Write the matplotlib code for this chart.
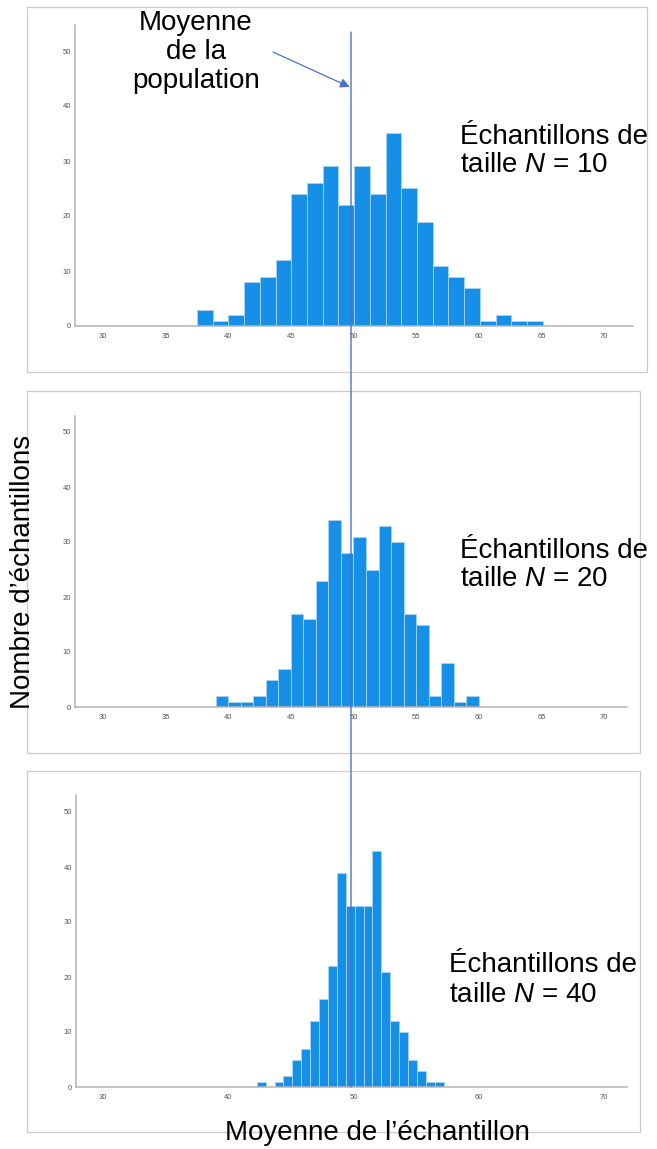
import matplotlib
matplotlib.use('Agg')
import matplotlib.pyplot as plt
from matplotlib.patches import Rectangle, ConnectionPatch
import numpy as np

plt.rcParams['font.family'] = ['Liberation Sans', 'DejaVu Sans']
plt.rcParams['mathtext.fontset'] = 'custom'
plt.rcParams['mathtext.rm'] = 'Liberation Sans'
plt.rcParams['mathtext.it'] = 'Liberation Sans:italic'

# histogram counts (300 samples per panel)
counts_n10 = [3, 1, 2, 8, 9, 12, 24, 26, 29, 22, 29, 24, 35, 25, 19, 11, 9, 7, 1, 2, 1, 1]
counts_n20 = [2, 1, 1, 2, 5, 7, 17, 16, 23, 34, 28, 31, 25, 33, 30, 17, 15, 2, 8, 1, 2]
counts_n40 = [1, 0, 1, 2, 5, 7, 12, 16, 22, 39, 33, 33, 33, 43, 21, 12, 10, 5, 3, 1, 1]

# first bin edge and bin width of each histogram
bin_start = [37.5, 39.0, 42.28]
bin_width = [1.255, 1.0, 0.71]

sample_sizes = [10, 20, 40]
xticks_list = [[30, 35, 40, 45, 50, 55, 60, 65, 70],
               [30, 35, 40, 45, 50, 55, 60, 65, 70],
               [30, 40, 50, 60, 70]]
yticks = [0, 10, 20, 30, 40, 50]
pop_mean = 50
# the hand-drawn mean line sits slightly left of the 50 tick in the original
line_x = pop_mean - 0.2

W, H = 657, 1149
fig = plt.figure(figsize=(W / 100, H / 100), dpi=100)


def fx(px):
    return px / W


def fy(py):
    return 1 - py / H


# pixel layout: (left, right, top, bottom) of axes, frame boxes, label positions
axes_px = [(75, 633, 25, 326), (75, 627, 416, 707), (76, 627, 795, 1087)]
frames_px = [(27, 647, 7, 372), (27, 640, 391, 753), (27, 640, 771, 1132)]
note_px = [(460, 151), (460, 565), (449, 980)]

bar_color = '#1690e6'
line_color = '#4a72cc'

axes = []
for i in range(3):
    l, r, t, b = frames_px[i]
    fig.add_artist(Rectangle((fx(l), fy(b)), fx(r) - fx(l), fy(t) - fy(b),
                             transform=fig.transFigure, fill=False,
                             edgecolor='#cccccc', linewidth=0.9, zorder=0))

    l, r, t, b = axes_px[i]
    ax = fig.add_axes([fx(l), fy(b), fx(r) - fx(l), fy(t) - fy(b)])
    counts = counts_n10 if i == 0 else counts_n20 if i == 1 else counts_n40
    lefts = bin_start[i] + bin_width[i] * np.arange(len(counts))
    ax.bar(lefts, counts, width=bin_width[i], align='edge', color=bar_color,
           edgecolor='#a8d4f5', linewidth=0.6, zorder=2)

    # x: 30 at px 103, 70 at px 604
    ppu = (604 - 103) / 40
    ax.set_xlim(30 - (103 - l) / ppu, 70 + (r - 604) / ppu)
    ax.set_ylim(0, (b - t) / 5.5)
    ax.set_xticks(xticks_list[i])
    ax.set_yticks(yticks)
    ax.tick_params(length=0, labelsize=5.5, labelcolor='#555555')
    ax.tick_params(axis='x', pad=5)
    ax.tick_params(axis='y', pad=3)
    for s in ['top', 'right']:
        ax.spines[s].set_visible(False)
    for s in ['left', 'bottom']:
        ax.spines[s].set_color('#b4b4b4')
        ax.spines[s].set_linewidth(1.1)
    ax.patch.set_alpha(0)
    axes.append(ax)

    nx, ny = note_px[i]
    fig.text(fx(nx), fy(ny), 'Échantillons de\ntaille $N$ = %d' % sample_sizes[i],
             fontsize=20, ha='left', va='center', linespacing=1.15, zorder=5)

# population mean line crossing all three panels
top_val = (axes_px[0][3] - 32) / 5.5
con = ConnectionPatch(xyA=(line_x, top_val), coordsA=axes[0].transData,
                      xyB=(line_x, 0), coordsB=axes[2].transData,
                      color=line_color, linewidth=1.0, zorder=10)
fig.add_artist(con)

arrow_val = (axes_px[0][3] - 87) / 5.5
axes[0].annotate('', xy=(line_x - 0.1, arrow_val), xycoords='data',
                 xytext=(fx(273), fy(52)), textcoords='figure fraction',
                 arrowprops=dict(arrowstyle='-|>', color=line_color, lw=0.9,
                                 mutation_scale=14, shrinkA=0, shrinkB=0),
                 annotation_clip=False)

fig.text(fx(196), fy(52), 'Moyenne\nde la\npopulation', fontsize=20,
         ha='center', va='center', multialignment='center', linespacing=1.15)

fig.text(fx(23), fy(572), 'Nombre d’échantillons', fontsize=20, rotation=90,
         ha='center', va='center')
fig.text(fx(377), fy(1133), 'Moyenne de l’échantillon', fontsize=20,
         ha='center', va='center')

fig.savefig('out.png', dpi=100)
